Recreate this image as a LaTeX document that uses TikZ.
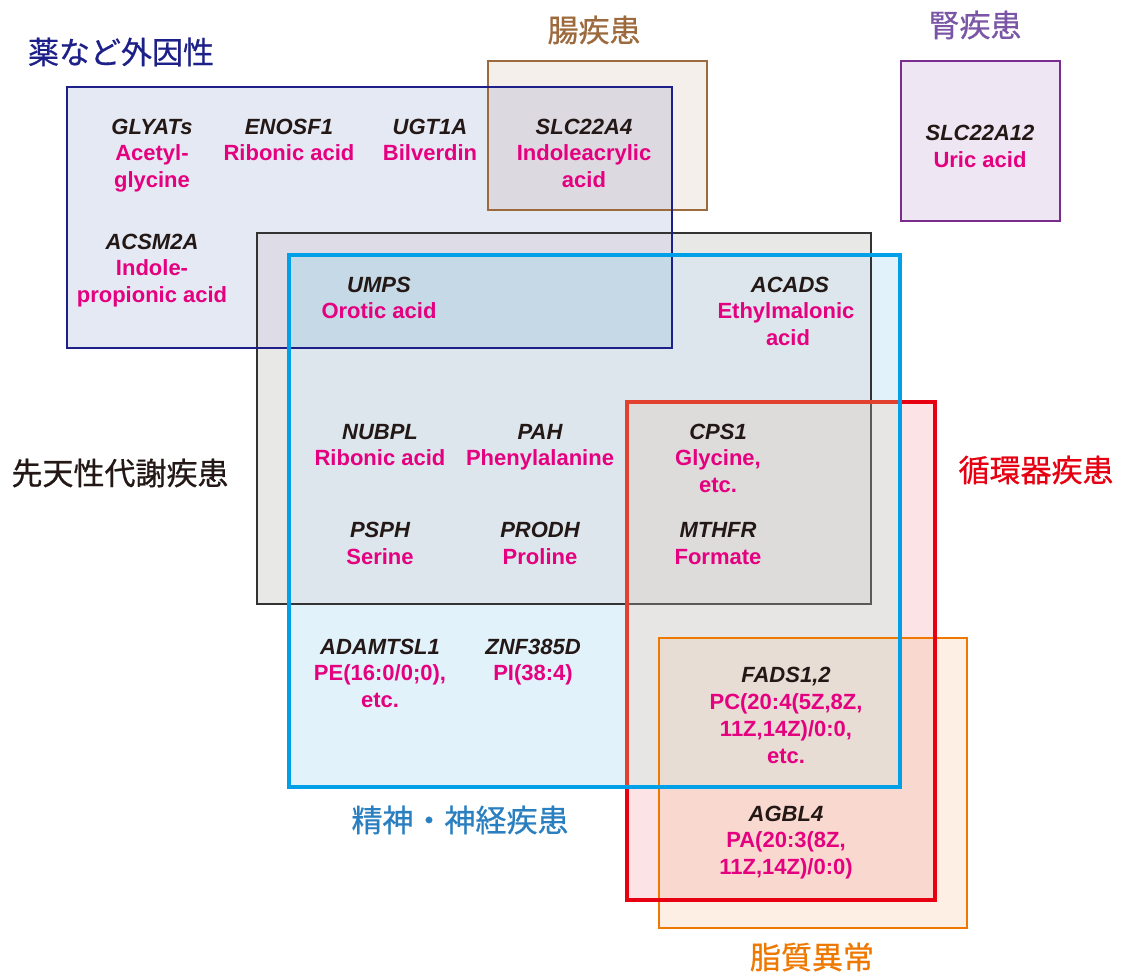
\documentclass[tikz,border=0pt]{standalone}
\usepackage{fontspec}
\newfontfamily\lat{Liberation Sans}
\newfontfamily\cjk[FakeBold=0.6]{Noto Sans CJK JP}
\definecolor{navyc}{HTML}{1D2088}
\definecolor{brownc}{HTML}{9C6A3C}
\definecolor{purpc}{HTML}{7B2C8F}
\definecolor{purpt}{HTML}{7B56A6}
\definecolor{inbc}{HTML}{333333}
\definecolor{inbci}{HTML}{5A5A5A}
\definecolor{cyanc}{HTML}{00A0E9}
\definecolor{redc}{HTML}{E60012}
\definecolor{redci}{HTML}{E2412F}
\definecolor{orac}{HTML}{EE7800}
\definecolor{bluet}{HTML}{2A7FC0}
\definecolor{genec}{HTML}{231815}
\definecolor{magc}{HTML}{E4007F}
% region fills
\definecolor{fE}{HTML}{E5E9F3}
\definecolor{fG}{HTML}{F4EFEA}
\definecolor{fEG}{HTML}{DDD9E1}
\definecolor{fK}{HTML}{EEE6F2}
\definecolor{fI}{HTML}{E8E8E7}
\definecolor{fEI}{HTML}{DEDCE6}
\definecolor{fN}{HTML}{E2F2FB}
\definecolor{fNI}{HTML}{DCE6EC}
\definecolor{fNIE}{HTML}{C5D9E7}
\definecolor{fR}{HTML}{FBE3E6}
\definecolor{fRN}{HTML}{E8E6E5}
\definecolor{fRNI}{HTML}{DEDCDB}
\definecolor{fL}{HTML}{FDEFE4}
\definecolor{fLR}{HTML}{F9D9CF}
\definecolor{fLRN}{HTML}{E8DDD5}
\begin{document}
\begin{tikzpicture}[x=1pt,y=-1pt,
  gene/.style={anchor=base,inner sep=0pt,text=genec,font=\lat\bfseries\itshape\fontsize{22}{27}\selectfont},
  met/.style={anchor=base,inner sep=0pt,text=magc,font=\lat\bfseries\fontsize{22}{27}\selectfont},
  cat/.style={anchor=center,inner sep=0pt,font=\cjk\fontsize{31}{36}\selectfont},
  boxline/.style={line width=2pt},
  thickline/.style={line width=3.5pt}]
\useasboundingbox[fill=white] (0,0) rectangle (1123,977);
% region fills
\fill[fE] (67,87) rectangle (672,348);
\fill[fG] (488,61) rectangle (707,210);
\fill[fEG] (488,87) rectangle (672,210);
\fill[fK] (901,61) rectangle (1060,221);
\fill[fI] (257,233) rectangle (871,604);
\fill[fEI] (257,233) rectangle (672,348);
\fill[fN] (289,255) rectangle (900,787);
\fill[fNI] (289,255) rectangle (871,604);
\fill[fNIE] (289,255) rectangle (672,348);
\fill[fR] (627,402) rectangle (935,900);
\fill[fRN] (627,402) rectangle (900,787);
\fill[fRNI] (627,402) rectangle (871,604);
\fill[fL] (659,638) rectangle (967,928);
\fill[fLR] (659,638) rectangle (935,900);
\fill[fLRN] (659,638) rectangle (900,787);
% borders
\draw[boxline,inbc] (257,233) rectangle (871,604);
\begin{scope}
\clip (627,402) rectangle (935,900);
\draw[boxline,inbci] (257,233) rectangle (871,604);
\end{scope}
\draw[boxline,brownc] (488,61) rectangle (707,210);
\draw[boxline,navyc] (67,87) rectangle (672,348);
\draw[boxline,purpc] (901,61) rectangle (1060,221);
\draw[boxline,orac] (659,638) rectangle (967,928);
\draw[thickline,redc] (627,402) rectangle (935,900);
\begin{scope}
\clip (289,255) rectangle (900,787);
\draw[thickline,redci] (627,402) rectangle (935,900);
\end{scope}
\draw[thickline,cyanc] (289,255) rectangle (900,787);
% category labels
\node[cat,text=navyc] (c-exo) at (121,52) {薬など外因性};
\node[cat,text=brownc] (c-gut) at (594,30) {腸疾患};
\node[cat,text=purpt] (c-kid) at (975,25) {腎疾患};
\node[cat,text=genec] (c-inb) at (120,473) {先天性代謝疾患};
\node[cat,text=redc] (c-car) at (1036,470) {循環器疾患};
\node[cat,text=bluet] (c-neu) at (460,820) {精神・神経疾患};
\node[cat,text=orac] (c-lip) at (812,957) {脂質異常};
% entries
\node[gene] (g1) at (152,134) {GLYATs};
\node[met] (m1a) at (152,160) {Acetyl-};
\node[met] (m1b) at (152,187) {glycine};
\node[gene] (g2) at (289,134) {ENOSF1};
\node[met] (m2a) at (289,160) {Ribonic acid};
\node[gene] (g3) at (430,134) {UGT1A};
\node[met] (m3a) at (430,160) {Bilverdin};
\node[gene] (g4) at (584,134) {SLC22A4};
\node[met] (m4a) at (584,160) {Indoleacrylic};
\node[met] (m4b) at (584,187) {acid};
\node[gene] (g5) at (980,140) {SLC22A12};
\node[met] (m5a) at (980,167) {Uric acid};
\node[gene] (g6) at (152,249) {ACSM2A};
\node[met] (m6a) at (152,275) {Indole-};
\node[met] (m6b) at (152,302) {propionic acid};
\node[gene] (g7) at (379,292) {UMPS};
\node[met] (m7a) at (379,318) {Orotic acid};
\node[gene] (g8) at (790,292) {ACADS};
\node[met] (m8a) at (786,318) {Ethylmalonic};
\node[met] (m8b) at (788,345) {acid};
\node[gene] (g9) at (380,439) {NUBPL};
\node[met] (m9a) at (380,465) {Ribonic acid};
\node[gene] (g10) at (540,439) {PAH};
\node[met] (m10a) at (540,465) {Phenylalanine};
\node[gene] (g11) at (718,439) {CPS1};
\node[met] (m11a) at (718,465) {Glycine,};
\node[met] (m11b) at (718,492) {etc.};
\node[gene] (g12) at (380,537) {PSPH};
\node[met] (m12a) at (380,564) {Serine};
\node[gene] (g13) at (540,537) {PRODH};
\node[met] (m13a) at (540,564) {Proline};
\node[gene] (g14) at (718,537) {MTHFR};
\node[met] (m14a) at (718,564) {Formate};
\node[gene] (g15) at (380,654) {ADAMTSL1};
\node[met] (m15a) at (380,680) {PE(16:0/0;0),};
\node[met] (m15b) at (380,707) {etc.};
\node[gene] (g16) at (533,654) {ZNF385D};
\node[met] (m16a) at (533,680) {PI(38:4)};
\node[gene] (g17) at (786,682) {FADS1,2};
\node[met] (m17a) at (786,709) {PC(20:4(5Z,8Z,};
\node[met] (m17b) at (786,736) {11Z,14Z)/0:0,};
\node[met] (m17c) at (786,763) {etc.};
\node[gene] (g18) at (786,821) {AGBL4};
\node[met] (m18a) at (786,847) {PA(20:3(8Z,};
\node[met] (m18b) at (786,874) {11Z,14Z)/0:0)};
\end{tikzpicture}
\end{document}
